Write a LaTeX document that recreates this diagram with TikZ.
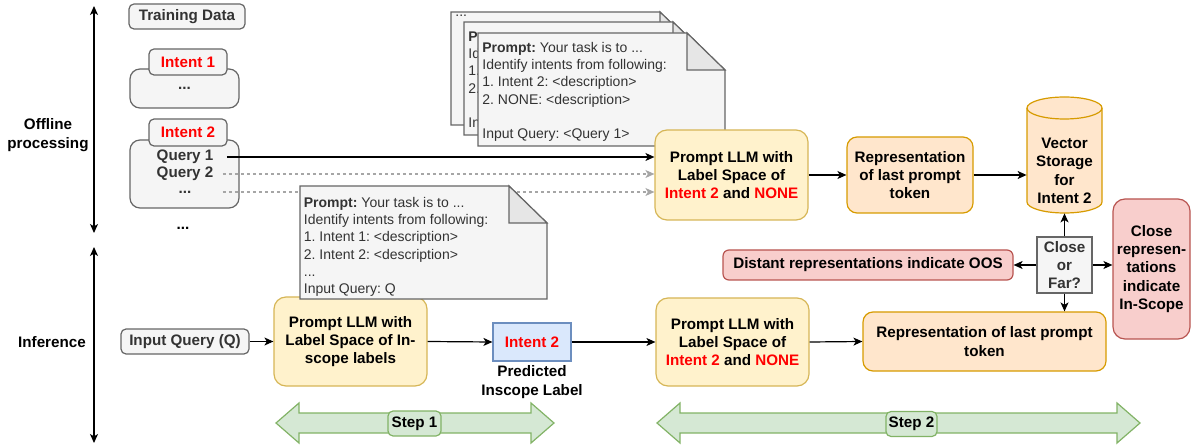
\documentclass[tikz,border=0pt]{standalone}
\usepackage{fontspec}
\setmainfont{Liberation Sans}
\usetikzlibrary{arrows.meta}
\frenchspacing

\definecolor{grayfill}{HTML}{F5F5F5}
\definecolor{grayline}{HTML}{666666}
\definecolor{graytext}{HTML}{333333}
\definecolor{foldfill}{HTML}{E6E6E6}
\definecolor{yellowfill}{HTML}{FFF2CC}
\definecolor{yellowline}{HTML}{D6B656}
\definecolor{orangefill}{HTML}{FFE6CC}
\definecolor{orangeline}{HTML}{D79B00}
\definecolor{redfill}{HTML}{F8CECC}
\definecolor{redline}{HTML}{B85450}
\definecolor{bluefill}{HTML}{DAE8FC}
\definecolor{blueline}{HTML}{6C8EBF}
\definecolor{greenfill}{HTML}{D5E8D4}
\definecolor{greenline}{HTML}{82B366}
\definecolor{labelred}{HTML}{FF0000}
\definecolor{dashgray}{HTML}{A6A6A6}

\newcommand{\redtxt}[1]{\textcolor{labelred}{#1}}
\newcommand{\offlineprompt}{\textbf{Prompt:} Your task is to ...\\
Identify intents from following:\\
1. Intent 2: \textless description\textgreater\\
2. NONE: \textless description\textgreater\\
~\\
Input Query: \textless Query 1\textgreater}

\begin{document}
\begin{tikzpicture}[x=0.5pt,y=-0.5pt,
    >={Stealth[length=4.5pt,width=4pt,inset=1.2pt]},
    font=\fontsize{7.6}{9.2}\selectfont\bfseries,
    wh/.style 2 args={minimum width=#1*0.5pt,minimum height=#2*0.5pt},
    box/.style={draw,line width=0.6pt,align=center,inner sep=1pt},
    graybox/.style={box,fill=grayfill,draw=grayline,text=graytext,rounded corners=2.5pt},
    yellowbox/.style={box,fill=yellowfill,draw=yellowline,rounded corners=6pt},
    orangebox/.style={box,fill=orangefill,draw=orangeline,rounded corners=5pt},
    redbox/.style={box,fill=redfill,draw=redline,rounded corners=3pt},
    greenbox/.style={box,fill=greenfill,draw=greenline,rounded corners=2.5pt},
    doc/.style={draw=grayline,fill=grayfill,line width=0.6pt},
    fold/.style={draw=grayline,fill=foldfill,line width=0.6pt},
    doctext/.style={anchor=north west,align=left,inner sep=0pt,text=graytext,font=\fontsize{7}{8.6}\selectfont},
    dashline/.style={draw=dashgray,dash pattern=on 1.5pt off 1.5pt,line width=0.6pt},
    steparrow/.style={fill=greenfill,draw=greenline,line width=0.6pt},
    flow/.style={->,line width=0.6pt}]
\useasboundingbox (0,0) rectangle (1192,448);

% phases
\coordinate (offtop) at (94,6);
\coordinate (offbot) at (94,233);
\coordinate (inftop) at (94,247);
\coordinate (infbot) at (94,443);
\draw[<->,line width=0.6pt] (offtop) -- (offbot);
\draw[<->,line width=0.6pt] (inftop) -- (infbot);
\node[align=center] (offline) at (48,135) {Offline\\processing};
\node (inference) at (52,342) {Inference};

% training data
\node[graybox,wh={116}{25}] (train) at (187,16.5) {Training Data};
\node[graybox,rounded corners=5pt,wh={109}{39}] (body1) at (184.5,88.5) {...};
\node[graybox,wh={78}{26}] (head1) at (188,62) {\redtxt{Intent 1}};
\node[graybox,rounded corners=5pt,wh={109}{68}] (body2) at (184.5,174) {};
\node[graybox,wh={78}{27}] (head2) at (188,132.5) {\redtxt{Intent 2}};
\node[text=graytext,wh={75}{15}] (q1) at (185,157) {Query 1};
\node[text=graytext,wh={75}{15}] (q2) at (185,174) {Query 2};
\node[text=graytext,wh={75}{15}] (q3) at (185,192) {...};
\node (more) at (183,228) {...};

% prompt stack
\draw[doc] (451,12) -- ++(209,0) -- ++(38,37) -- ++(0,76) -- ++(-247,0) -- cycle;
\draw[fold] (660,12) -- ++(0,37) -- ++(38,0) -- cycle;
\node[doctext] (backtxt) at (455,14) {...};
\draw[doc] (464,22) -- ++(209,0) -- ++(38,37) -- ++(0,76) -- ++(-247,0) -- cycle;
\draw[fold] (673,22) -- ++(0,37) -- ++(38,0) -- cycle;
\begin{scope}
  \clip (464,22) rectangle (478,135);
  \node[doctext] (midtxt) at (468,31) {\offlineprompt};
\end{scope}
\draw[doc] (478,33) -- ++(209,0) -- ++(38,37) -- ++(0,76) -- ++(-247,0) -- cycle;
\draw[fold] (687,33) -- ++(0,37) -- ++(38,0) -- cycle;
\node[doctext] (fronttxt) at (482,42) {\offlineprompt};

% offline row
\node[yellowbox,wh={153}{90}] (llmtop) at (731.5,175) {Prompt LLM with\\Label Space of\\\redtxt{Intent 2} and \redtxt{NONE}};
\node[orangebox,wh={126}{76}] (reptop) at (910,175) {Representation\\of last prompt\\token};
\node[wh={75}{116}] (vs) at (1064.5,155) {};
\draw[fill=orangefill,draw=orangeline,line width=0.6pt] (1027,108) -- (1027,202)
  arc[start angle=180,end angle=0,x radius=37.5,y radius=11] -- (1102,108)
  arc[start angle=0,end angle=-180,x radius=37.5,y radius=11] -- cycle;
\draw[draw=orangeline,line width=0.6pt] (1027,108) arc[start angle=180,end angle=0,x radius=37.5,y radius=11];
\node[align=center] (vslabel) at (1064.5,171) {Vector\\Storage\\for\\Intent 2};

% inference row
\node[graybox,wh={128}{25}] (inq) at (185,341.5) {Input Query (Q)};
\node[yellowbox,wh={153}{89}] (llmin) at (350.5,341.5) {Prompt LLM with\\Label Space of In-\\scope labels};
\node[box,fill=bluefill,draw=blueline,wh={78}{38}] (pred) at (532,342) {\redtxt{Intent 2}};
\node[align=center] (predlbl) at (532,382) {Predicted\\Inscope Label};
\node[yellowbox,wh={153}{88}] (llmbot) at (732.5,342) {Prompt LLM with\\Label Space of\\\redtxt{Intent 2} and \redtxt{NONE}};
\node[orangebox,wh={243}{59}] (repbot) at (984.5,341.5) {Representation of last prompt\\token};

% decision
\node[box,fill=grayfill,draw=grayline,text=graytext,wh={55}{56}] (cf) at (1064.5,265) {Close\\or\\Far?};
\node[redbox,wh={290}{30}] (distant) at (868,265) {Distant representations indicate OOS};
\node[redbox,rounded corners=6pt,wh={77}{140}] (closerep) at (1151.5,269) {Close\\represen-\\tations\\indicate\\In-Scope};

% connectors
\draw[flow] ([xshift=2pt]q1.east) -- (q1.east -| llmtop.west);
\draw[flow,dashline,-{Stealth[length=4.5pt,width=4pt,inset=1.2pt]}] (q2.east) -- (q2.east -| llmtop.west);
\draw[flow,dashline,-{Stealth[length=4.5pt,width=4pt,inset=1.2pt]}] (q3.east) -- (q3.east -| llmtop.west);
\draw[flow] (llmtop.east) -- (reptop.west);
\draw[flow] (reptop.east) -- (reptop.east -| vs.west);
\draw[flow] (cf.north) -- (vs.south);
\draw[flow] (cf.west) -- (distant.east);
\draw[flow] (cf.east) -- (cf.east -| closerep.west);
\draw[flow] (cf.south) -- (cf.south |- repbot.north);
\draw[flow] (inq.east) -- (llmin.west);
\draw[flow] (llmin.east) -- (pred.west);
\draw[flow] (pred.east) -- (llmbot.west);
\draw[flow] (llmbot.east) -- (repbot.west);

% inference prompt
\draw[doc] (300,186) -- ++(209,0) -- ++(38,37) -- ++(0,76) -- ++(-247,0) -- cycle;
\draw[fold] (509,186) -- ++(0,37) -- ++(38,0) -- cycle;
\node[doctext] (inftxt) at (303.5,197) {\textbf{Prompt:} Your task is to ...\\
Identify intents from following:\\
1. Intent 1: \textless description\textgreater\\
2. Intent 2: \textless description\textgreater\\
...\\
Input Query: Q};

% steps
\foreach \xa/\xb in {276/554,657/1140}
  \draw[steparrow] (\xa,423) -- ++(23,-20) -- ++(0,10) -- (\xb-23,413) -- ++(0,-10) -- (\xb,423)
    -- ++(-23,20) -- ++(0,-10) -- (\xa+23,433) -- ++(0,10) -- cycle;
\node[greenbox,wh={53}{25}] (step1) at (414.5,423.5) {Step 1};
\node[greenbox,wh={51}{25}] (step2) at (911.5,424) {Step 2};
\end{tikzpicture}
\end{document}
